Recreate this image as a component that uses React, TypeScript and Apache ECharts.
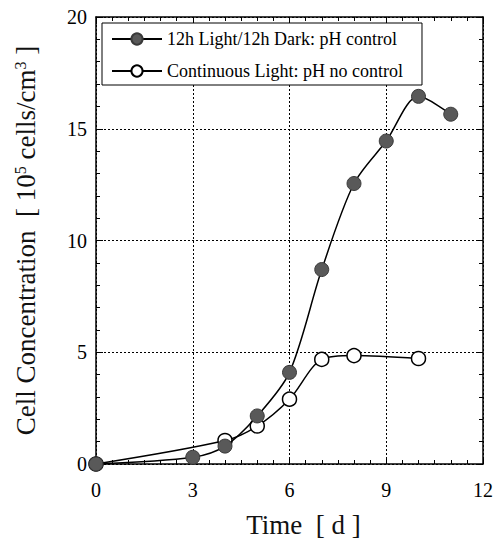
import React, { useEffect, useRef } from "react";
import * as echarts from "echarts";

const filledName = "12h Light/12h Dark: pH control";
const openName = "Continuous Light: pH no control";
const filledX = [0, 3, 4, 5, 6, 7, 8, 9, 10, 11];
const filledY = [0, 0.3, 0.8, 2.15, 4.1, 8.7, 12.55, 14.45, 16.45, 15.65];
const openX = [0, 4, 5, 6, 7, 8, 10];
const openY = [0, 1.05, 1.7, 2.9, 4.68, 4.85, 4.72];
const xTicks = [0, 3, 6, 9, 12];
const yTicks = [0, 5, 10, 15, 20];

const FONT = "Liberation Serif";

export default function App() {
  const ref = useRef<HTMLDivElement>(null);
  useEffect(() => {
    if (!ref.current) return;
    const chart = echarts.init(ref.current, undefined, { renderer: "svg" });
    const axisLine = { show: true, onZero: false, lineStyle: { color: "#000", width: 1.5 } };
    const tick = { show: true, inside: true, length: 7, lineStyle: { color: "#000", width: 1 } };
    const splitLine = { show: true, lineStyle: { color: "#000", width: 1, type: [2, 2] as any } };
    chart.setOption({
      animation: false,
      backgroundColor: "#fff",
      grid: { left: 96, right: 9, top: 17, bottom: 83, containLabel: false },
      legend: {
        orient: "vertical",
        left: 102,
        top: 23,
        backgroundColor: "#fff",
        borderColor: "#000",
        borderWidth: 1,
        padding: [7, 19, 5, 9],
        itemWidth: 50,
        itemHeight: 14,
        itemGap: 14,
        textStyle: { fontFamily: FONT, fontSize: 18, color: "#000", fontWeight: "normal" },
        data: [filledName, openName],
      },
      xAxis: [
        {
          type: "value",
          min: 0,
          max: 12,
          interval: 3,
          axisLine,
          axisTick: tick,
          minorTick: { show: true, splitNumber: 6, length: 4, lineStyle: { color: "#000" } },
          splitLine,
          axisLabel: {
            fontFamily: FONT,
            fontSize: 20,
            color: "#000",
            margin: 16,
            formatter: (v: number) => (xTicks.includes(v) ? String(v) : ""),
          },
          name: "Time  [ d ]",
          nameLocation: "middle",
          nameGap: 47,
          nameTextStyle: {
            fontFamily: FONT,
            fontSize: 27,
            fontWeight: "normal",
            color: "#111",
            padding: [0, 0, 0, 28],
          },
        },
        {
          type: "value",
          position: "top",
          min: 0,
          max: 12,
          interval: 3,
          axisLine,
          axisTick: tick,
          minorTick: { show: true, splitNumber: 6, length: 4, lineStyle: { color: "#000" } },
          splitLine: { show: false },
          axisLabel: { show: false },
        },
      ],
      yAxis: [
        {
          type: "value",
          min: 0,
          max: 20,
          interval: 5,
          axisLine,
          axisTick: tick,
          minorTick: { show: true, splitNumber: 5, length: 4, lineStyle: { color: "#000" } },
          splitLine,
          axisLabel: {
            fontFamily: FONT,
            fontSize: 20,
            color: "#000",
            margin: 9,
            formatter: (v: number) => (yTicks.includes(v) ? String(v) : ""),
          },
          name: "Cell Concentration  [ 10{sup|5} cells/cm{sup|3} ]",
          nameLocation: "middle",
          nameGap: 56,
          nameTextStyle: {
            fontFamily: FONT,
            fontSize: 27,
            fontWeight: "normal",
            color: "#111",
            rich: {
              sup: {
                fontFamily: FONT,
                fontSize: 16,
                color: "#111",
                verticalAlign: "top",
                padding: [0, 0, 12, 0],
              },
            },
          },
        },
        {
          type: "value",
          position: "right",
          min: 0,
          max: 20,
          interval: 5,
          axisLine,
          axisTick: tick,
          minorTick: { show: true, splitNumber: 5, length: 4, lineStyle: { color: "#000" } },
          splitLine: { show: false },
          axisLabel: { show: false },
        },
      ],
      series: [
        {
          name: openName,
          type: "line",
          smooth: 0.3,
          data: openX.map((x, i) => [x, openY[i]]),
          symbol: "circle",
          symbolSize: 14,
          z: 3,
          lineStyle: { color: "#000", width: 1.5 },
          itemStyle: { color: "#fff", borderColor: "#000", borderWidth: 1.5 },
        },
        {
          name: filledName,
          type: "line",
          smooth: 0.3,
          data: filledX.map((x, i) => [x, filledY[i]]),
          symbol: "circle",
          symbolSize: 14,
          z: 4,
          lineStyle: { color: "#000", width: 1.5 },
          itemStyle: { color: "#595959", borderColor: "#3a3a3a", borderWidth: 1 },
        },
      ],
    });
    return () => chart.dispose();
  }, []);
  return <div ref={ref} style={{ width: 496, height: 547, position: "absolute", left: 0, top: 0 }} />;
}
